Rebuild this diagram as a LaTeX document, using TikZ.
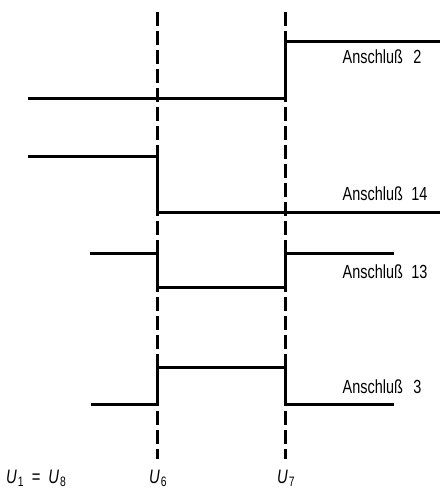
\documentclass[tikz,border=0pt]{standalone}
\usepackage{fontspec}
\setmainfont{Liberation Sans}[FakeStretch=0.76]
\begin{document}
\begin{tikzpicture}[x=1pt,y=-1pt,
  sig/.style={line width=2.5pt,line cap=butt,line join=miter},
  guide/.style={line width=2.7pt,dash pattern=on 14pt off 5pt},
  lab/.style={anchor=base west,inner sep=0pt,font=\fontsize{19}{19}\selectfont},
  ulab/.style={anchor=base west,inner sep=0pt,font=\fontsize{19.5}{19.5}\selectfont}]
\useasboundingbox (0,0) rectangle (440,488);
% guide lines
\coordinate (g6t) at (157.3,12);
\coordinate (g6b) at (157.3,459);
\coordinate (g7t) at (285.3,12);
\coordinate (g7b) at (285.3,459);
\draw[guide] (g6t) -- (g6b);
\draw[guide] (g7t) -- (g7b);
% Anschluss 2
\draw[sig] (28,98.3) -- (285.3,98.3) -- (285.3,41.3) -- (440,41.3);
% Anschluss 14
\draw[sig] (28,156.3) -- (157.3,156.3) -- (157.3,212.3) -- (440,212.3);
% Anschluss 13
\draw[sig] (89.5,253.3) -- (157.3,253.3) -- (157.3,287.3) -- (285.3,287.3) -- (285.3,253.3) -- (394,253.3);
% Anschluss 3
\draw[sig] (90.5,404.3) -- (157.3,404.3) -- (157.3,367.3) -- (285.3,367.3) -- (285.3,404.3) -- (393.5,404.3);
% labels
\node[lab] (l2) at (342.5,63.3) {Anschluß\hspace{0.55em}2};
\node[lab] (l14) at (342.5,200) {Anschluß\hspace{0.45em}14};
\node[lab] (l13) at (342.5,278.3) {Anschluß\hspace{0.45em}13};
\node[lab] (l3) at (342.5,393.3) {Anschluß\hspace{0.55em}3};
% bottom labels
\node[ulab] (u1) at (6,483) {\itshape U\kern1pt\upshape\textsubscript{1}\hspace{0.4em}=\hspace{0.4em}\itshape U\kern1pt\upshape\textsubscript{8}};
\node[ulab] (u6) at (149,483) {\itshape U\kern1pt\upshape\textsubscript{6}};
\node[ulab] (u7) at (277,483) {\itshape U\kern1pt\upshape\textsubscript{7}};
\end{tikzpicture}
\end{document}
